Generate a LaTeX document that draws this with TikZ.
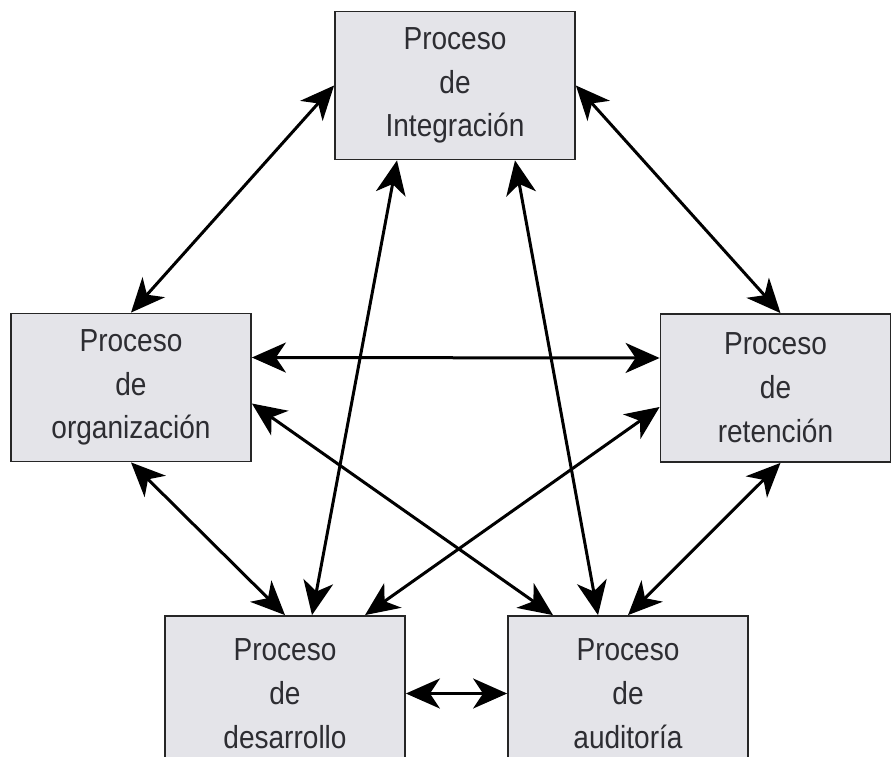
\documentclass[tikz,border=0pt]{standalone}
\usepackage{fontspec}
\setmainfont{Liberation Sans}[FakeStretch=0.88]
\usetikzlibrary{arrows.meta}
\definecolor{boxgray}{RGB}{228,228,233}
\definecolor{txtgray}{RGB}{45,45,50}
\begin{document}
\begin{tikzpicture}[x=1bp, y=-1bp, >={Stealth[length=34bp, width=30bp, inset=10bp]}, <->, line width=3bp,
            proc/.style={draw=black!85, line width=1.8bp, fill=boxgray, text=txtgray, align=center, inner sep=0pt,
                minimum width=240bp, minimum height=148bp, font=\fontsize{32}{44}\selectfont}]
            \useasboundingbox (0,0) rectangle (891,757);
            \clip (0,0) rectangle (891,757);
            \node[proc] (integ) at (455,85.5) {Proceso\\de\\Integración};
            \node[proc] (organ) at (131,387.5) {Proceso\\de\\organización};
            \node[proc, minimum width=230bp] (reten) at (775.5,388) {Proceso\\de\\retención};
            \node[proc, minimum height=155bp] (desarr) at (285,693.5) {Proceso\\de\\desarrollo};
            \node[proc, minimum height=155bp] (audit) at (628,693.5) {Proceso\\de\\auditoría};
            \path
            (integ.west) edge (organ.north)
            (integ.east) edge ([xshift=5bp]reten.north)
            ([yshift=30bp]organ.east) edge ([yshift=30bp]reten.west)
            ([yshift=-16bp]organ.east) edge ([xshift=-75bp]audit.north)
            ([yshift=-19bp]reten.west) edge ([xshift=80bp]desarr.north)
            ([xshift=-58bp]integ.south) edge ([xshift=27bp]desarr.north)
            ([xshift=60bp]integ.south) edge ([xshift=-30bp]audit.north)
            (organ.south) edge (desarr.north)
            ([xshift=5bp]reten.south) edge (audit.north)
            (desarr.east) edge (audit.west);
        \end{tikzpicture}
\end{document}
